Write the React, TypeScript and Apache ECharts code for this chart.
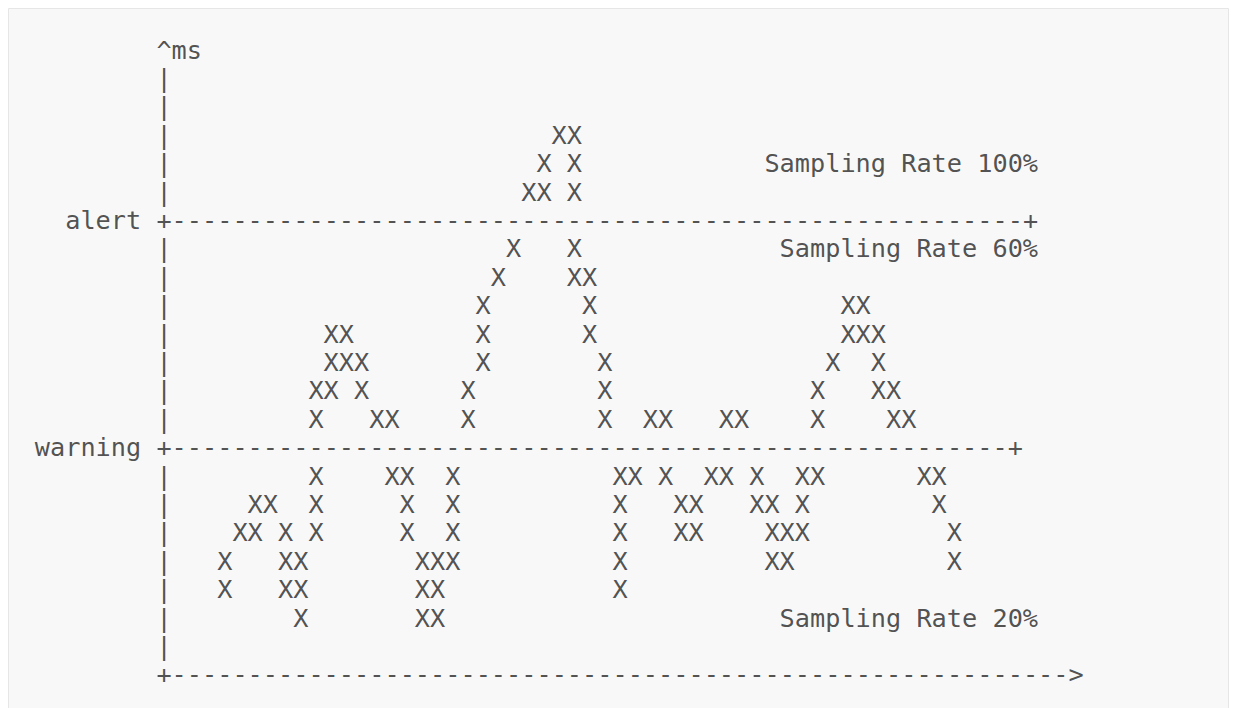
import React, { useEffect, useRef } from "react";
import * as echarts from "echarts";

// Each token: [row, column, text]. Column 0 is the vertical axis; one column = one monospace cell.
const AXIS_TOKENS: [number, number, string][] = [
  [0, 0, "^ms"],
  [1, 0, "|"], [2, 0, "|"], [3, 0, "|"], [4, 0, "|"], [5, 0, "|"],
  [7, 0, "|"], [8, 0, "|"], [9, 0, "|"], [10, 0, "|"], [11, 0, "|"], [12, 0, "|"], [13, 0, "|"],
  [15, 0, "|"], [16, 0, "|"], [17, 0, "|"], [18, 0, "|"], [19, 0, "|"], [20, 0, "|"], [21, 0, "|"],
  [22, 0, "+" + "-".repeat(59) + ">"],
];

const THRESHOLD_TOKENS: [number, number, string][] = [
  [6, -6, "alert +" + "-".repeat(56) + "+"],
  [14, -8, "warning +" + "-".repeat(55) + "+"],
];

const RATE_LABELS: [number, number, string][] = [
  [4, 40, "Sampling Rate 100%"],
  [7, 41, "Sampling Rate 60%"],
  [20, 41, "Sampling Rate 20%"],
];

const MARK_TOKENS: [number, number, string][] = [
  [3, 26, "XX"],
  [4, 25, "X X"],
  [5, 24, "XX X"],
  [7, 23, "X"], [7, 27, "X"],
  [8, 22, "X"], [8, 27, "XX"],
  [9, 21, "X"], [9, 28, "X"], [9, 45, "XX"],
  [10, 11, "XX"], [10, 21, "X"], [10, 28, "X"], [10, 45, "XXX"],
  [11, 11, "XXX"], [11, 21, "X"], [11, 29, "X"], [11, 44, "X"], [11, 47, "X"],
  [12, 10, "XX X"], [12, 20, "X"], [12, 29, "X"], [12, 43, "X"], [12, 47, "XX"],
  [13, 10, "X"], [13, 14, "XX"], [13, 20, "X"], [13, 29, "X"], [13, 32, "XX"], [13, 37, "XX"], [13, 43, "X"], [13, 48, "XX"],
  [15, 10, "X"], [15, 15, "XX"], [15, 19, "X"], [15, 30, "XX X"], [15, 36, "XX X"], [15, 42, "XX"], [15, 50, "XX"],
  [16, 6, "XX"], [16, 10, "X"], [16, 16, "X"], [16, 19, "X"], [16, 30, "X"], [16, 34, "XX"], [16, 39, "XX X"], [16, 51, "X"],
  [17, 5, "XX X X"], [17, 16, "X"], [17, 19, "X"], [17, 30, "X"], [17, 34, "XX"], [17, 40, "XXX"], [17, 52, "X"],
  [18, 4, "X"], [18, 8, "XX"], [18, 17, "XXX"], [18, 30, "X"], [18, 40, "XX"], [18, 52, "X"],
  [19, 4, "X"], [19, 8, "XX"], [19, 17, "XX"], [19, 30, "X"],
  [20, 9, "X"], [20, 17, "XX"],
];

const FONT = "'DejaVu Sans Mono', 'Liberation Mono', monospace";
const TEXT_COLOR = "#262626";

function textSeries(name: string, tokens: [number, number, string][]) {
  return {
    type: "scatter",
    name,
    symbolSize: 1,
    itemStyle: { color: "rgba(0,0,0,0)" },
    silent: true,
    data: tokens.map(([row, col, text]) => [col - 0.5, row, text]),
    label: {
      show: true,
      position: "inside",
      align: "left",
      verticalAlign: "middle",
      fontFamily: FONT,
      fontSize: 25.25,
      color: TEXT_COLOR,
      formatter: (p: any) => p.value[2],
    },
  };
}

export default function App() {
  const ref = useRef<HTMLDivElement>(null);
  useEffect(() => {
    if (!ref.current) return;
    const chart = echarts.init(ref.current, undefined, { renderer: "svg" });
    chart.setOption({
      animation: false,
      backgroundColor: "#f8f8f8",
      graphic: [
        {
          type: "rect",
          shape: { x: 0.5, y: 0.5, width: 1220, height: 900 },
          style: { fill: "#f8f8f8", stroke: "#e6e6e6", lineWidth: 1 },
          z: -10,
          silent: true,
        },
      ],
      grid: { left: 4, width: 1216, top: 13.6, height: 667.4 },
      xAxis: { type: "value", min: -10, max: 70, show: false },
      yAxis: { type: "value", min: -1, max: 22.5, inverse: true, show: false },
      tooltip: { show: false },
      series: [
        textSeries("axis", AXIS_TOKENS),
        textSeries("thresholds", THRESHOLD_TOKENS),
        textSeries("rates", RATE_LABELS),
        textSeries("latency", MARK_TOKENS),
      ],
    });
    return () => chart.dispose();
  }, []);
  return <div ref={ref} style={{ width: "1221px", height: "700px" }} />;
}
